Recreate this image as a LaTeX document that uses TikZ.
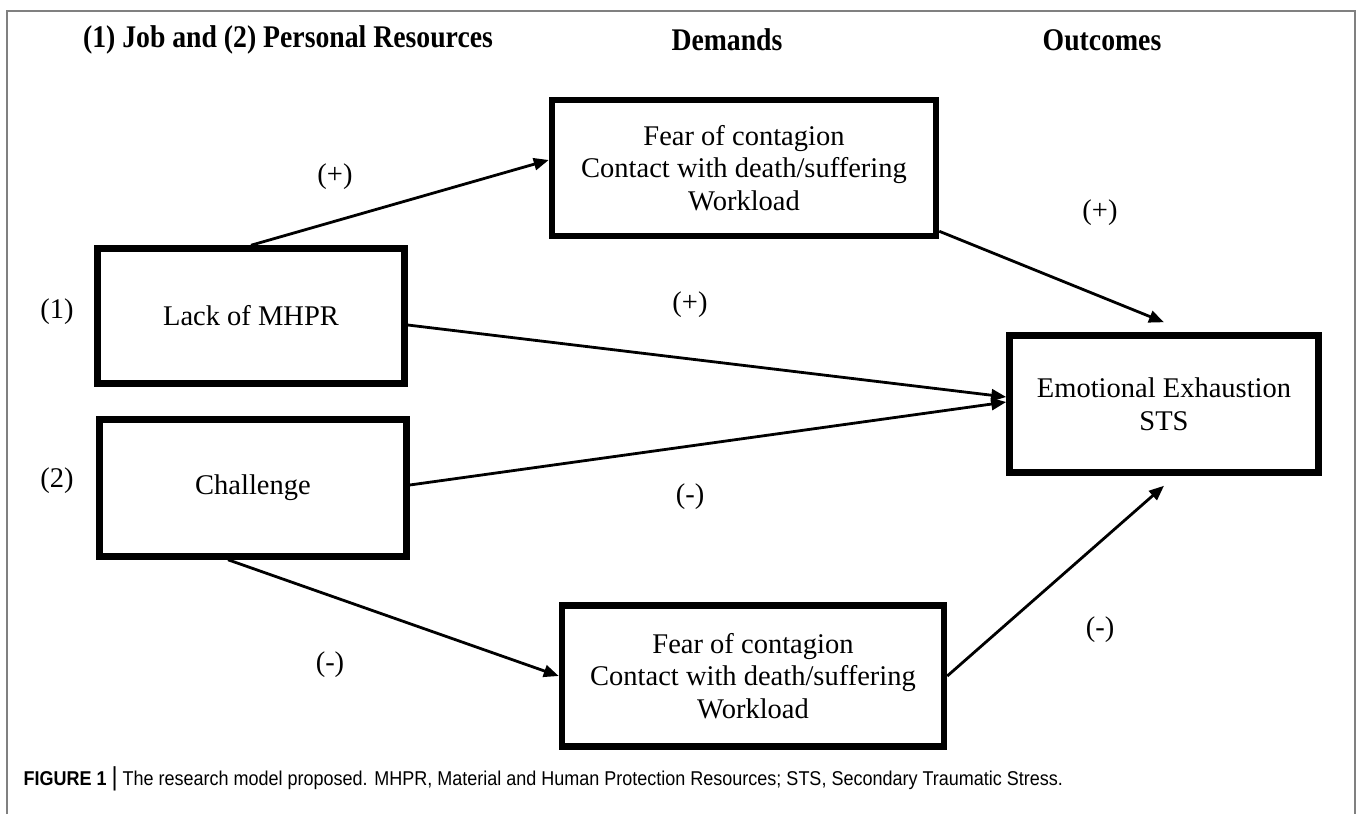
\documentclass[tikz,border=0pt]{standalone}
\usepackage{fontspec}
\setmainfont{Liberation Serif}
\newfontfamily\capfont[FakeStretch=0.9]{Liberation Sans}
\newfontfamily\headfont[FakeStretch=0.88]{Liberation Serif}
\usetikzlibrary{arrows.meta}
\newcommand{\boxfont}{\fontsize{28.5}{32.5}\selectfont}

\begin{document}
\begin{tikzpicture}[x=1pt, y=-1pt,
        model/.style={draw, line width=6.5pt, align=center, inner sep=0pt, font=\boxfont},
        sign/.style={font=\boxfont},
        head/.style={font=\headfont\bfseries\fontsize{31.5}{34}\selectfont},
        effect/.style={-{Triangle[length=15pt,width=12pt]}, line width=2.8pt}]
    \useasboundingbox (0,0) rectangle (1357,814);
    % frame
    \draw[gray, line width=1.2pt] (7,814) -- (7,11) -- (1355,11) -- (1355,814);

    % column heads
    \node[head] (hres) at (288,40) {(1) Job and (2) Personal Resources};
    \node[head] (hdem) at (727,40) {Demands};
    \node[head] (hout) at (1102,40) {Outcomes};

    % boxes
    \node[model, minimum width=307pt, minimum height=135pt] (lack) at (251,316) {Lack of MHPR};
    \node[model, minimum width=307pt, minimum height=137pt] (chal) at (253,488) {Challenge};
    \node[model, minimum width=384pt, minimum height=136pt] (demtop) at (744,168)
        {Fear of contagion\\Contact with death/suffering\\Workload};
    \node[model, minimum width=382pt, minimum height=141pt] (dembot) at (753,676)
        {Fear of contagion\\Contact with death/suffering\\Workload};
    \node[model, minimum width=309pt, minimum height=137pt] (emo) at (1164,404)
        {Emotional Exhaustion\\STS};

    \node[sign] (one) at (57,312) {(1)};
    \node[sign] (two) at (57,481) {(2)};

    % paths
    \draw[effect] (lack.north) -- ([yshift=8pt]demtop.west);
    \draw[effect] ([yshift=8pt]demtop.south east) -- ([yshift=10pt]emo.north);
    \draw[effect] ([yshift=-9pt]lack.east) -- ([yshift=7pt]emo.west);
    \draw[effect] ([yshift=3pt]chal.east) -- ([yshift=2pt]emo.west);
    \draw[effect] ([xshift=-25pt]chal.south) -- (dembot.west);
    \draw[effect] (dembot.east) -- ([yshift=-10pt]emo.south);

    \node[sign] (p1) at (335,177) {(+)};
    \node[sign] (p2) at (690,305) {(+)};
    \node[sign] (p3) at (1100,213) {(+)};
    \node[sign] (m1) at (690,497) {(-)};
    \node[sign] (m2) at (330,665) {(-)};
    \node[sign] (m3) at (1100,630) {(-)};

    % caption
    \node[anchor=west, font=\capfont\fontsize{20}{24}\selectfont] (cap) at (20,779)
        {\textbf{FIGURE 1} {\fontsize{26}{26}\selectfont|} The research model proposed. MHPR, Material and Human Protection Resources; STS, Secondary Traumatic Stress.};
\end{tikzpicture}
\end{document}
